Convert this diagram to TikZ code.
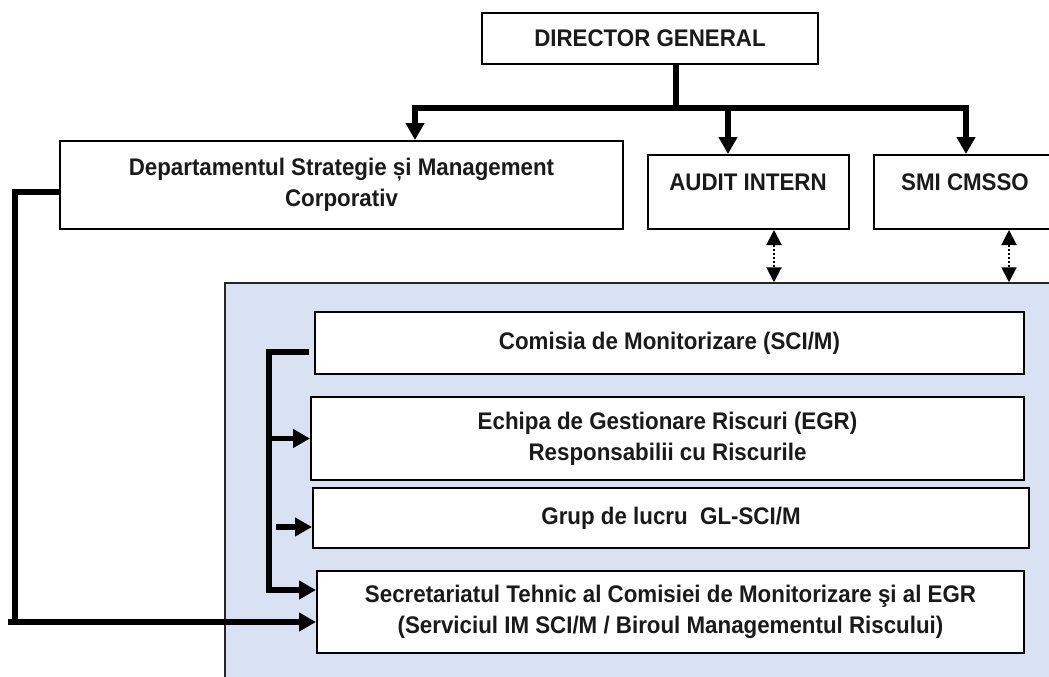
\documentclass[tikz,border=0pt]{standalone}
\usepackage{fontspec}
\setmainfont{Liberation Sans}[FakeStretch=0.93]
\usetikzlibrary{arrows.meta,calc}
\definecolor{panelblue}{HTML}{D9E2F3}
\definecolor{inkgray}{HTML}{1A1A1A}
\begin{document}
\begin{tikzpicture}[x=1pt,y=-1pt,
  box/.style={draw=black, line width=2pt, fill=white, inner sep=0pt, align=center,
    font=\fontsize{24}{31}\selectfont\bfseries, text=inkgray},
  txt/.style={font=\fontsize{24}{31}\selectfont\bfseries, text=inkgray, align=center, inner sep=0pt},
  thickline/.style={line width=5.5pt},
  thickarrow/.style={line width=5.5pt, -{Triangle[length=17pt,width=18pt]}},
  dotarrow/.style={line width=2pt, dotted, {Triangle[length=15pt,width=15pt]}-{Triangle[length=15pt,width=15pt]}}]
\clip (0,0) rectangle (1049,677);
\fill[white] (0,0) rectangle (1049,677);

% top level
\node[box, minimum width=336pt, minimum height=51pt] (dg) at (650,38.5) {DIRECTOR GENERAL};
\node[box, minimum width=563pt, minimum height=88pt] (dept) at (341.5,185)
  {Departamentul Strategie și Management\\Corporativ};
\node[box, minimum width=201pt, minimum height=74pt] (audit) at (748.5,192) {};
\node[txt] (auditT) at (748,182) {AUDIT INTERN};
\node[box, minimum width=188pt, minimum height=74pt] (smi) at (968,192) {};
\node[txt] (smiT) at (965,182) {SMI CMSSO};

% blue panel
\node[draw=black!85, line width=1.5pt, fill=panelblue, minimum width=835pt, minimum height=407pt, inner sep=0pt]
  (panel) at (642.5,486.5) {};

% inner boxes
\node[box, minimum width=709pt, minimum height=62pt] (comisia) at (669.5,343) {Comisia de Monitorizare (SCI/M)};
\node[box, minimum width=713pt, minimum height=83pt] (echipa) at (667.5,438.5)
  {Echipa de Gestionare Riscuri (EGR)\\Responsabilii cu Riscurile};
\node[box, minimum width=716pt, minimum height=60pt] (grup) at (671,518) {Grup de lucru\ \ GL-SCI/M};
\node[box, minimum width=707pt, minimum height=82pt] (secret) at (670.5,612)
  {Secretariatul Tehnic al Comisiei de Monitorizare şi al EGR\\(Serviciul IM SCI/M / Biroul Managementul Riscului)};

% director connectors
\coordinate (tapD) at (415,108);
\coordinate (tapA) at (728,108);
\coordinate (tapS) at (966,108);
\draw[thickline] ([xshift=26pt]dg.south) -- ([xshift=26pt]dg.south |- tapA);
\draw[thickline] ($(tapD)+(-2.75,0)$) -- ($(tapS)+(2.75,0)$);
\draw[thickarrow] (tapD) -- (tapD |- dept.north);
\draw[thickarrow] (tapA) -- (tapA |- audit.north);
\draw[thickarrow] (tapS) -- (tapS |- smi.north);

% dotted links
\draw[dotarrow] ([xshift=25.5pt]audit.south) -- ([xshift=25.5pt]audit.south |- panel.north);
\draw[dotarrow] ([xshift=41pt]smi.south) -- ([xshift=41pt]smi.south |- panel.north);

% left connector from department
\coordinate (lcTop) at (15,192);
\coordinate (lcBot) at (15,622);
\coordinate (lcTail) at (8,622);
\draw[thickarrow] ([yshift=-7pt]dept.west) -- (lcTop) -- (lcBot) -- (lcBot -| secret.west);
\draw[thickline] (lcTail) -- (lcBot);

% inner bracket
\coordinate (brT) at (269,352);
\coordinate (brB) at (269,590);
\coordinate (gS) at (276,527);
\draw[thickarrow] ([xshift=-5pt,yshift=-9pt]comisia.west) -- (brT) -- (brB) -- (brB -| secret.west);
\draw[thickarrow] (echipa.west -| brT) -- (echipa.west);
\draw[thickarrow] (gS) -- (gS -| grup.west);
\end{tikzpicture}
\end{document}
